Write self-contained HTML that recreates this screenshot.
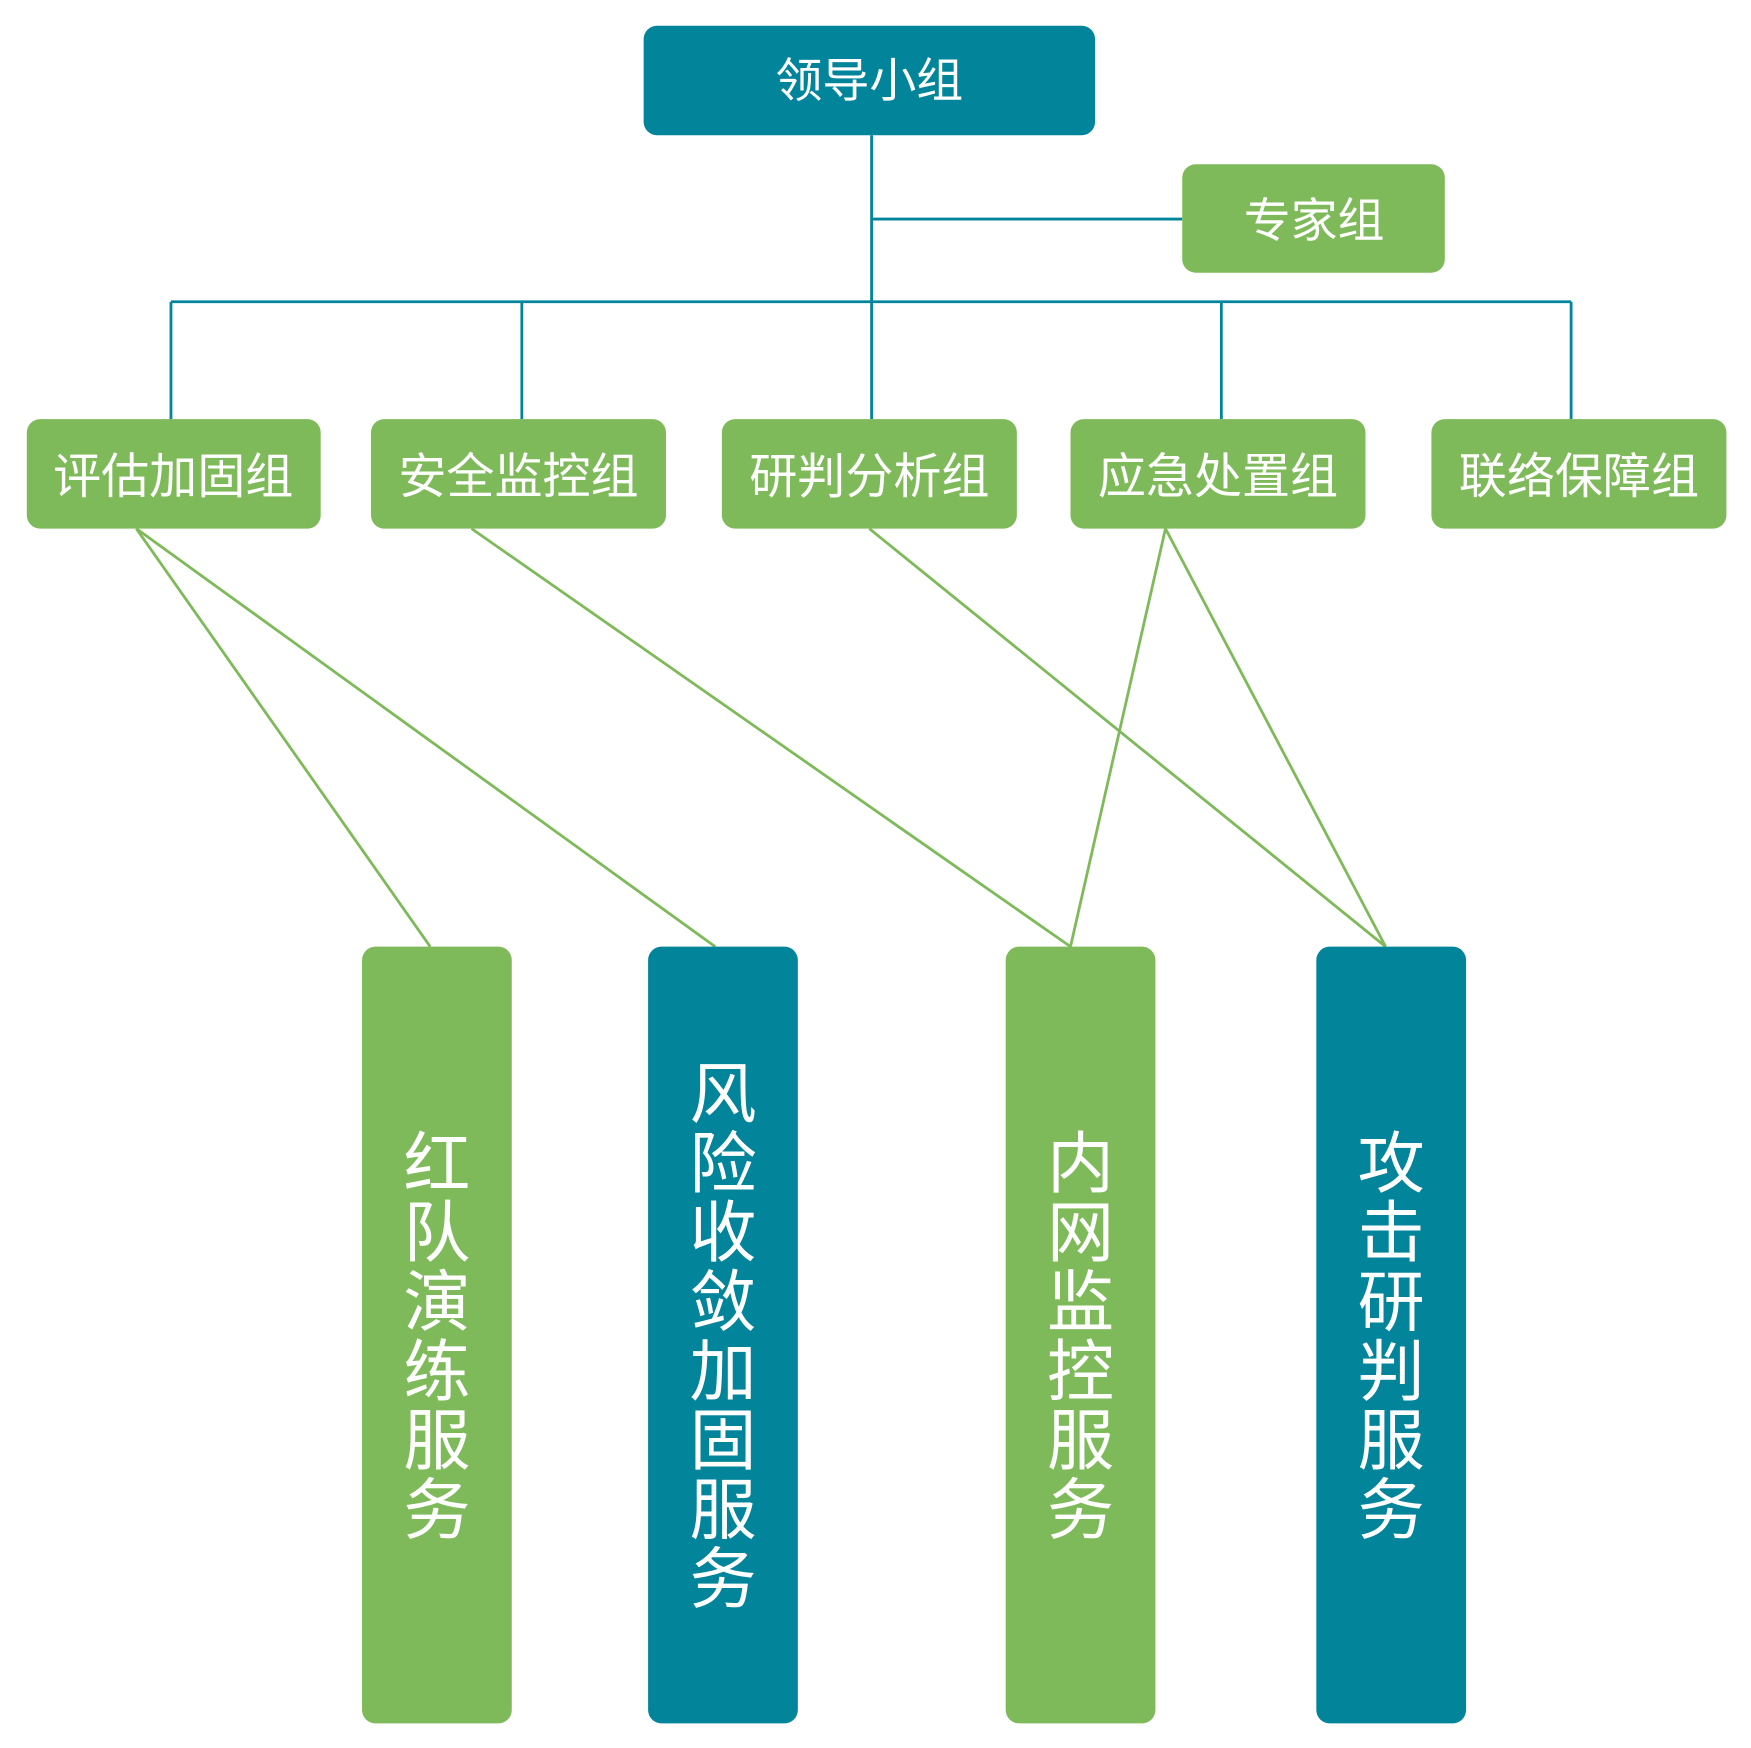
<!DOCTYPE html>
<html><head><meta charset="utf-8"><style>
html,body{margin:0;padding:0;background:#fff;}
svg{display:block;}
text{font-family:"Liberation Sans","Noto Sans CJK SC",sans-serif;fill:#fff;}
</style></head><body>
<svg width="1751" height="1748" viewBox="0 0 1567 1564" preserveAspectRatio="none" xmlns="http://www.w3.org/2000/svg">
<g stroke="#02849B" stroke-width="2.5" fill="none">
<line x1="780" y1="121" x2="780" y2="375"/>
<line x1="780" y1="196" x2="1058" y2="196"/>
<line x1="153" y1="270" x2="1406" y2="270"/>
<line x1="153" y1="270" x2="153" y2="375"/>
<line x1="467" y1="270" x2="467" y2="375"/>
<line x1="1093" y1="270" x2="1093" y2="375"/>
<line x1="1406" y1="270" x2="1406" y2="375"/>
</g>
<g stroke="#7FBA5A" stroke-width="2.5">
<line x1="122" y1="473" x2="385" y2="847"/>
<line x1="122" y1="473" x2="640" y2="847"/>
<line x1="422" y1="473" x2="958" y2="847"/>
<line x1="778" y1="473" x2="1240" y2="847"/>
<line x1="1043" y1="473" x2="958" y2="847"/>
<line x1="1043" y1="473" x2="1240" y2="847"/>
</g>
<rect x="576" y="23" width="404" height="98" rx="12" fill="#02849B"/>
<text x="778" y="87" font-size="42" text-anchor="middle">领导小组</text>
<rect x="1058" y="147" width="235" height="97" rx="12" fill="#7FBA5A"/>
<text x="1176" y="212" font-size="42" text-anchor="middle">专家组</text>
<g fill="#7FBA5A">
<rect x="24" y="375" width="263" height="98" rx="12"/>
<rect x="332" y="375" width="264" height="98" rx="12"/>
<rect x="646" y="375" width="264" height="98" rx="12"/>
<rect x="958" y="375" width="264" height="98" rx="12"/>
<rect x="1281" y="375" width="264" height="98" rx="12"/>
</g>
<g font-size="43" text-anchor="middle">
<text x="155" y="441">评估加固组</text>
<text x="464" y="441">安全监控组</text>
<text x="778" y="441">研判分析组</text>
<text x="1090" y="441">应急处置组</text>
<text x="1413" y="441">联络保障组</text>
</g>
<rect x="324" y="847" width="134" height="695" rx="12" fill="#7FBA5A"/>
<rect x="580" y="847" width="134" height="695" rx="12" fill="#02849B"/>
<rect x="900" y="847" width="134" height="695" rx="12" fill="#7FBA5A"/>
<rect x="1178" y="847" width="134" height="695" rx="12" fill="#02849B"/>
<g font-size="60" text-anchor="middle">
<text x="391" y="1062">红</text><text x="391" y="1124">队</text><text x="391" y="1186">演</text><text x="391" y="1248">练</text><text x="391" y="1310">服</text><text x="391" y="1372">务</text>
<text x="647" y="1000">风</text><text x="647" y="1062">险</text><text x="647" y="1124">收</text><text x="647" y="1186">敛</text><text x="647" y="1248">加</text><text x="647" y="1310">固</text><text x="647" y="1372">服</text><text x="647" y="1434">务</text>
<text x="967" y="1062">内</text><text x="967" y="1124">网</text><text x="967" y="1186">监</text><text x="967" y="1248">控</text><text x="967" y="1310">服</text><text x="967" y="1372">务</text>
<text x="1245" y="1062">攻</text><text x="1245" y="1124">击</text><text x="1245" y="1186">研</text><text x="1245" y="1248">判</text><text x="1245" y="1310">服</text><text x="1245" y="1372">务</text>
</g>
</svg>
</body></html>
